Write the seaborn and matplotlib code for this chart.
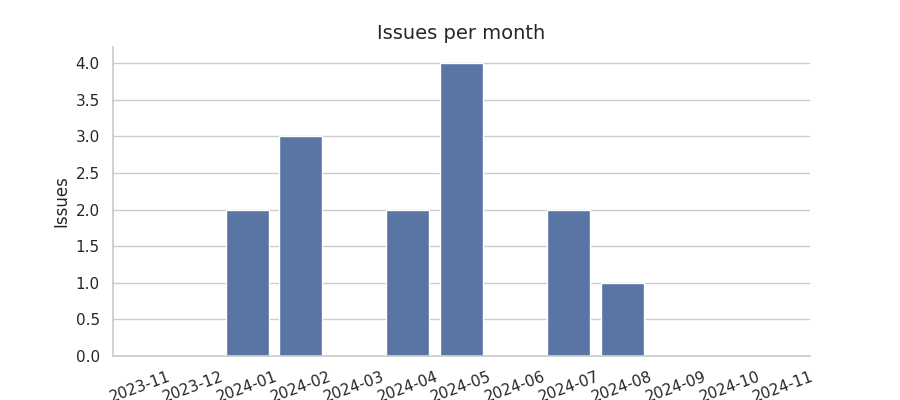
import matplotlib
matplotlib.use("Agg")
import matplotlib.pyplot as plt
import seaborn as sns
import pandas as pd

months = ["2023-11", "2023-12", "2024-01", "2024-02", "2024-03", "2024-04", "2024-05",
          "2024-06", "2024-07", "2024-08", "2024-09", "2024-10", "2024-11"]
issues = [0, 0, 2, 3, 0, 2, 4, 0, 2, 1, 0, 0, 0]

sns.set_theme(style="whitegrid")
df = pd.DataFrame({"month": months, "issues": issues})

fig = plt.figure(figsize=(9, 4), dpi=100)
ax = fig.add_axes([0.1256, 0.11, 0.7744, 0.7725])
sns.barplot(data=df, x="month", y="issues", color="#4C72B0", ax=ax)
ax.set_title("Issues per month", fontsize=14)
ax.set_xlabel("")
ax.set_ylabel("Issues", fontsize=12)
ax.set_ylim(0, 4.22)
ax.set_yticks([0, 0.5, 1, 1.5, 2, 2.5, 3, 3.5, 4])
ax.set_yticklabels([f"{v:.1f}" for v in [0, 0.5, 1, 1.5, 2, 2.5, 3, 3.5, 4]])
plt.setp(ax.get_xticklabels(), rotation=20, ha="center")
ax.tick_params(labelsize=11)
sns.despine(ax=ax)
fig.savefig("out.png", dpi=100)
